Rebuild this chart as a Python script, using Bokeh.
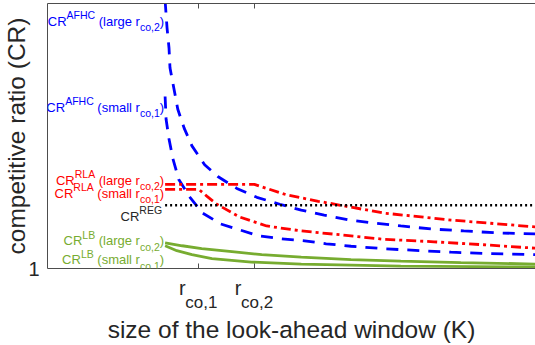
from bokeh.plotting import figure
from bokeh.models import (Label, LinearAxis, FixedTicker, Range1d,
                          CustomLabelingPolicy)
from bokeh.embed import file_html
from bokeh.resources import INLINE

# ---------------- data ----------------
K_START = 24.1
R_CO1 = 31.02
R_CO2 = 42.45
x_ticks = [R_CO1, R_CO2]
x_tick_main = ["r", "r"]
x_tick_sub = ["co,1", "co,2"]
y_ticks = [1]

afhc_large_k = [24.1, 24.5, 24.9, 25.1, 25.9, 26.7, 28.0, 29.6, 32.2, 34.9, 38.8,
                42.9, 47.6, 52.0, 56.7, 61.8, 66.9, 72.4, 78.6, 85.3, 92.2, 100]
afhc_large_cr = [3.71, 3.43, 3.23, 3.03, 2.82, 2.61, 2.42, 2.24, 2.05, 1.93, 1.81,
                 1.72, 1.65, 1.59, 1.54, 1.49, 1.46, 1.43, 1.40, 1.38, 1.36, 1.35]

afhc_small_k = [24.1, 24.3, 24.9, 25.7, 26.9, 29.2, 31.8, 35.5, 39.4, 43.3, 48.0,
                52.7, 57.1, 62.2, 69.0, 76.5, 82.7, 90.8, 100]
afhc_small_cr = [2.74, 2.51, 2.31, 2.11, 1.90, 1.72, 1.56, 1.45, 1.39, 1.33, 1.30,
                 1.28, 1.25, 1.225, 1.20, 1.18, 1.165, 1.15, 1.14]

rla_large_k = [24.1, 42.4, 44.9, 49.0, 55.5, 62.2, 69.0, 82.7, 100]
rla_large_cr = [1.85, 1.85, 1.81, 1.745, 1.68, 1.62, 1.56, 1.49, 1.42]

rla_small_k = [24.1, 31.0, 32.7, 34.7, 39.4, 44.9, 52.0, 60.2, 69.0, 79.2, 89.4, 100]
rla_small_cr = [1.80, 1.80, 1.73, 1.65, 1.52, 1.43, 1.38, 1.34, 1.295, 1.27, 1.24, 1.205]

reg_k = [24.1, 100]
reg_cr = [1.64, 1.64]

lb_large_k = [24.1, 27.6, 31.6, 37.8, 43.9, 52.0, 62.2, 72.4, 84.7, 100]
lb_large_cr = [1.26, 1.23, 1.20, 1.17, 1.14, 1.115, 1.09, 1.075, 1.06, 1.045]

lb_small_k = [24.1, 26.5, 29.6, 33.7, 41.8, 52.0, 72.4, 100]
lb_small_cr = [1.23, 1.18, 1.14, 1.10, 1.065, 1.045, 1.025, 1.015]

# label texts: (text, kind) kind: n normal, sup superscript, sub subscript
labels = [
    ([("CR", "n"), ("AFHC", "sup"), (" (large r", "n"), ("co,2", "sub"), (")", "n")], 3.50, "#0000ff", 1),
    ([("CR", "n"), ("AFHC", "sup"), (" (small r", "n"), ("co,1", "sub"), (")", "n")], 2.63, "#0000ff", 1),
    ([("CR", "n"), ("RLA", "sup"), (" (large r", "n"), ("co,2", "sub"), (")", "n")], 1.89, "#ff0000", 1),
    ([("CR", "n"), ("RLA", "sup"), (" (small r", "n"), ("co,1", "sub"), (")", "n")], 1.76, "#ff0000", 1),
    ([("CR", "n"), ("REG", "sup")], 1.53, "#262626", 3),
    ([("CR", "n"), ("LB", "sup"), (" (large r", "n"), ("co,2", "sub"), (")", "n")], 1.28, "#77ac30", 1),
    ([("CR", "n"), ("LB", "sup"), (" (small r", "n"), ("co,1", "sub"), (")", "n")], 1.09, "#77ac30", 1),
]

FONT = "Liberation Sans"
FS = {"n": 13, "sup": 10.5, "sub": 10.5}
DY = {"n": 0, "sup": 6, "sub": -6}

# Arial / Liberation Sans advance widths (per 1000 em)
W = {" ": 278, "(": 333, ")": 333, ",": 278, "1": 556, "2": 556, "A": 667, "B": 667,
     "C": 722, "E": 667, "F": 611, "G": 778, "H": 722, "L": 556, "R": 722, "a": 556,
     "c": 500, "e": 556, "g": 556, "l": 222, "m": 833, "o": 556, "r": 333, "s": 500}


def tw(s, size):
    return sum(W.get(ch, 556) for ch in s) / 1000.0 * size


# ---------------- figure ----------------
p = figure(width=535, height=345, x_range=Range1d(0, 100), y_range=Range1d(1, 3.68),
           output_backend="svg", toolbar_location=None,
           min_border_left=45, min_border_right=0, min_border_top=3, min_border_bottom=74)
p.outline_line_color = None
p.grid.visible = False
p.background_fill_color = "white"

AX = "#4d4d4d"
TXT = "#262626"

# bottom axis: line, inward ticks, main part of tick labels ("r")
xa = p.xaxis[0]
xa.ticker = FixedTicker(ticks=x_ticks)
xa.major_label_overrides = {t: m + "\u00a0" * 6 for t, m in zip(x_ticks, x_tick_main)}
xa.major_label_text_font = FONT
xa.major_label_text_font_size = "20px"
xa.major_label_text_color = TXT
xa.major_label_standoff = 8
xa.major_tick_in = 5
xa.major_tick_out = 0
xa.minor_tick_in = 0
xa.minor_tick_out = 0
xa.axis_line_color = AX
xa.major_tick_line_color = AX

# second bottom axis: subscripts of the tick labels and the axis title
sub_ticks = [round(t + 0.51, 2) for t in x_ticks]
xb = LinearAxis(ticker=FixedTicker(ticks=sub_ticks),
                major_label_overrides={t: s for t, s in zip(sub_ticks, x_tick_sub)},
                major_label_text_font=FONT, major_label_text_font_size="17px",
                major_label_text_color=TXT, major_label_standoff=-9,
                major_tick_in=0, major_tick_out=0, minor_tick_in=0, minor_tick_out=0,
                axis_line_color=None, major_tick_line_color=None,
                axis_label="size of the look-ahead window (K)",
                axis_label_text_font=FONT, axis_label_text_font_size="24.5px",
                axis_label_text_font_style="normal", axis_label_text_color=TXT,
                axis_label_standoff=1)
p.add_layout(xb, "below")

ya = p.yaxis[0]
ya.ticker = FixedTicker(ticks=y_ticks)
ya.major_label_text_font = FONT
ya.major_label_text_font_size = "20px"
ya.major_label_text_color = TXT
ya.major_label_standoff = 8
ya.major_tick_in = 0
ya.major_tick_out = 0
ya.minor_tick_in = 0
ya.minor_tick_out = 0
ya.axis_line_color = AX
ya.axis_label = "competitive ratio (CR)"
ya.axis_label_text_font = FONT
ya.axis_label_text_font_size = "24.5px"
ya.axis_label_text_font_style = "normal"
ya.axis_label_text_color = TXT
ya.axis_label_standoff = -5

top = LinearAxis(ticker=FixedTicker(ticks=x_ticks), major_label_text_font_size="0px",
                 major_label_policy=CustomLabelingPolicy(
                     code="for (const i of indices) indices.unset(i)"),
                 major_label_standoff=0, major_tick_in=5, major_tick_out=0,
                 minor_tick_in=0, minor_tick_out=0, axis_line_color=AX,
                 major_tick_line_color=AX)
p.add_layout(top, "above")

# ---------------- curves ----------------
LW = 2.8
p.line(afhc_large_k, afhc_large_cr, line_color="#0000ff", line_width=LW, line_dash="12 9")
p.line(afhc_small_k, afhc_small_cr, line_color="#0000ff", line_width=LW, line_dash="12 9")
p.line(rla_large_k, rla_large_cr, line_color="#ff0000", line_width=LW, line_dash="10 4 3 4")
p.line(rla_small_k, rla_small_cr, line_color="#ff0000", line_width=LW, line_dash="10 4 3 4")
p.line(reg_k, reg_cr, line_color="black", line_width=2.5, line_dash="2 3")
p.line(lb_large_k, lb_large_cr, line_color="#77ac30", line_width=LW)
p.line(lb_small_k, lb_small_cr, line_color="#77ac30", line_width=LW)

# ---------------- curve labels ----------------
for parts, ybase, color, gap in labels:
    total = sum(tw(t, FS[k]) for t, k in parts)
    cur = -total - gap
    for t, k in parts:
        w = tw(t, FS[k])
        lead = len(t) - len(t.lstrip(" "))
        off = cur + tw(" " * lead, FS[k])
        p.add_layout(Label(x=K_START, y=ybase, x_offset=off, y_offset=DY[k], text=t.strip(" "),
                           text_font=FONT, text_font_size=f"{FS[k]}px", text_color=color,
                           text_align="left", text_baseline="alphabetic"))
        cur += w

open("out.html", "w").write(file_html(p, INLINE))
